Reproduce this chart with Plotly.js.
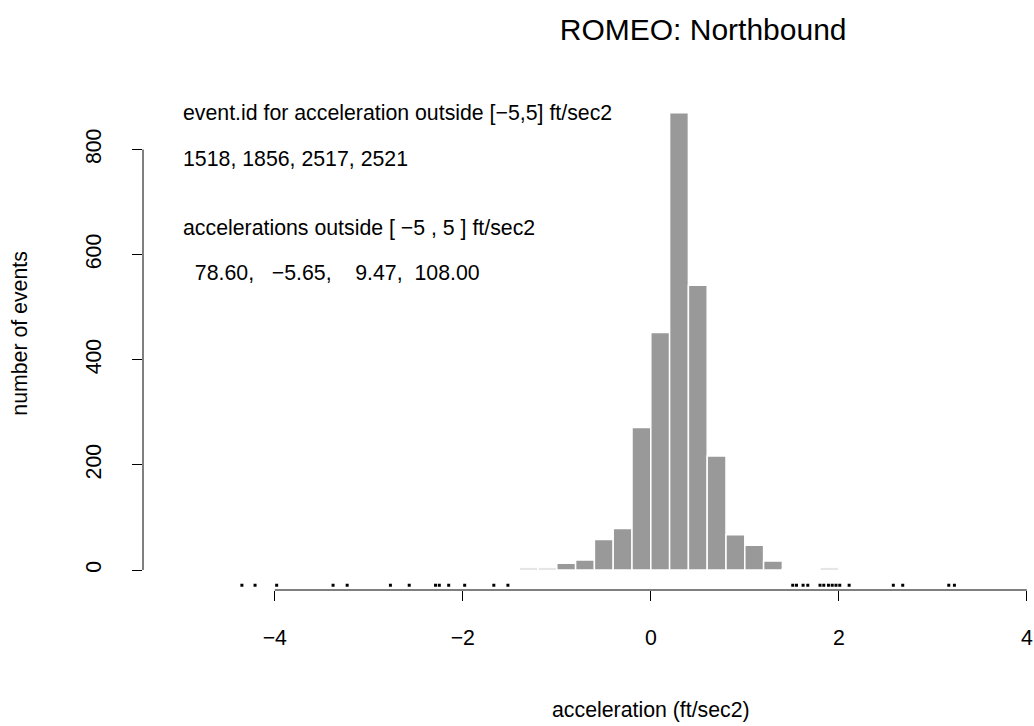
<!DOCTYPE html>
<html>
<head>
<meta charset="utf-8">
<script src="https://cdn.plot.ly/plotly-3.0.1.min.js"></script>
<style>html,body{margin:0;padding:0;background:#fff;}#chart{width:1034px;height:726px;}</style>
</head>
<body>
<div id="chart"></div>
<script>
// Histogram bins (centers, width 0.2 ft/sec2) and counts
const binCenters = [-1.5, -1.3, -1.1, -0.9, -0.7, -0.5, -0.3, -0.1, 0.1, 0.3, 0.5, 0.7, 0.9, 1.1, 1.3, 1.5, 1.7, 1.9];
const binCounts  = [1, 4, 4, 13, 19, 58, 79, 271, 452, 870, 542, 217, 67, 47, 17, 2, 0, 4];
const binWidth = 0.2;

// Rug marks (acceleration values, ft/sec2)
const rugValues = [-4.35, -4.21, -3.98, -3.38, -3.23, -2.77, -2.57, -2.29, -2.25, -2.15, -1.98, -1.67, -1.52,
                   1.51, 1.55, 1.62, 1.67, 1.80, 1.84, 1.89, 1.93, 1.97, 2.01, 2.11, 2.58, 2.68, 3.17, 3.23];

const xTicks = [-4, -2, 0, 2, 4];
const yTicks = [0, 200, 400, 600, 800];

const titleText = "ROMEO: Northbound";
const xLabel = "acceleration (ft/sec2)";
const yLabel = "number of events";
const noteLines = [
  "event.id for acceleration outside [\u22125,5] ft/sec2",
  "1518, 1856, 2517, 2521",
  "accelerations outside [ \u22125 , 5 ] ft/sec2",
  "\u00a0\u00a078.60,\u00a0\u00a0\u00a0\u22125.65,\u00a0\u00a0\u00a0\u00a09.47,\u00a0\u00a0108.00"
];
const noteY = [870, 782, 651, 566];

const FONT = "Liberation Sans, Arial, Helvetica, sans-serif";
const FS = 21.3;

const rugLevel = -29;

const traces = [
  {
    type: "bar",
    x: binCenters,
    y: binCounts,
    width: binCenters.map(() => binWidth),
    marker: {color: "#999999", line: {color: "#ffffff", width: 1.5}},
    hoverinfo: "x+y",
    showlegend: false
  },
  {
    type: "scatter",
    mode: "markers",
    x: rugValues,
    y: rugValues.map(() => rugLevel),
    marker: {symbol: "square", size: 3, color: "#000000", line: {width: 0}},
    cliponaxis: false,
    hoverinfo: "x",
    showlegend: false
  }
];

const annotations = noteLines.map((t, i) => ({
  text: t, x: -5, y: noteY[i], xref: "x", yref: "y",
  xanchor: "left", yanchor: "middle", showarrow: false,
  font: {family: FONT, size: FS, color: "#000"}
}));
annotations.push({
  text: xLabel, x: 0, y: -0.231, xref: "x", yref: "paper",
  xanchor: "center", yanchor: "middle", showarrow: false,
  font: {family: FONT, size: FS, color: "#000"}
});
annotations.push({
  text: yLabel, x: -0.138, y: 0.494, xref: "paper", yref: "paper",
  xanchor: "center", yanchor: "middle", showarrow: false, textangle: -90,
  font: {family: FONT, size: FS, color: "#000"}
});

const layout = {
  width: 1034, height: 726,
  margin: {l: 143, r: 4, t: 70, b: 136},
  paper_bgcolor: "#fff", plot_bgcolor: "#fff",
  font: {family: FONT, size: FS, color: "#000"},
  title: {
    text: titleText, x: 0.6315, xref: "paper", xanchor: "center",
    y: 0.960, yref: "container", yanchor: "middle",
    font: {family: FONT, size: 30, color: "#000"}
  },
  bargap: 0,
  xaxis: {
    range: [-5.402, 4.034], showgrid: false, zeroline: false, showline: false,
    tickmode: "array", tickvals: xTicks, ticks: "outside", ticklen: 10, tickwidth: 1, tickcolor: "#000",
    ticklabelstandoff: 18, tickfont: {family: FONT, size: FS, color: "#000"}, fixedrange: true
  },
  yaxis: {
    range: [-38.05, 951.3], showgrid: false, zeroline: false, showline: false,
    tickmode: "array", tickvals: yTicks, ticks: "outside", ticklen: 10, tickwidth: 1, tickcolor: "#000",
    tickangle: -90, ticklabelstandoff: 22, tickfont: {family: FONT, size: FS, color: "#000"}, fixedrange: true
  },
  shapes: [
    {type: "line", xref: "x", yref: "paper", x0: xTicks[0], x1: xTicks[xTicks.length - 1], y0: 0, y1: 0,
     line: {color: "#000", width: 1}},
    {type: "line", xref: "paper", yref: "y", x0: 0, x1: 0, y0: yTicks[0], y1: yTicks[yTicks.length - 1],
     line: {color: "#000", width: 1}}
  ],
  annotations: annotations
};

Plotly.newPlot("chart", traces, layout, {displayModeBar: false, staticPlot: true});
</script>
</body>
</html>
